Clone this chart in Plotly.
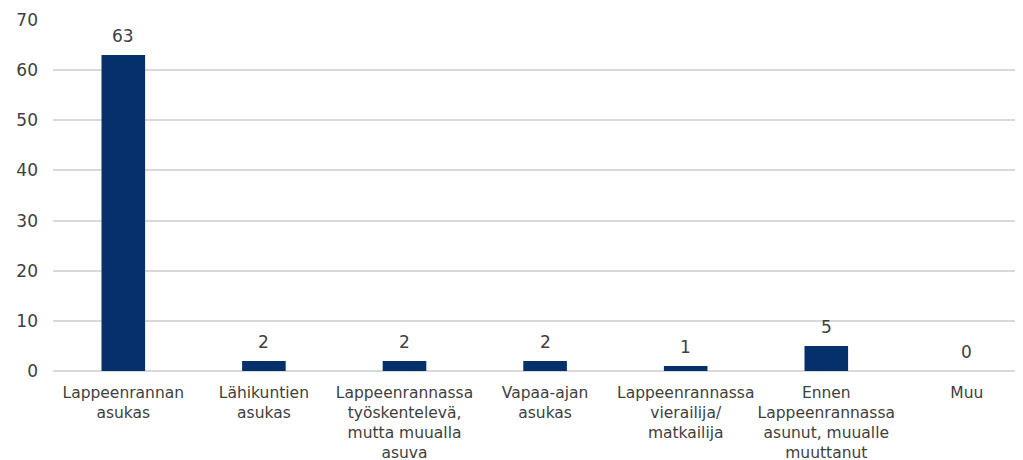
import plotly.graph_objects as go

categories = [
    "Lappeenrannan<br>asukas",
    "Lähikuntien<br>asukas",
    "Lappeenrannassa<br>työskentelevä,<br>mutta muualla<br>asuva",
    "Vapaa-ajan<br>asukas",
    "Lappeenrannassa<br>vierailija/<br>matkailija",
    "Ennen<br>Lappeenrannassa<br>asunut, muualle<br>muuttanut",
    "Muu",
]
values = [63, 2, 2, 2, 1, 5, 0]
y_ticks = [0, 10, 20, 30, 40, 50, 60, 70]

font_family = "DejaVu Sans, Verdana, sans-serif"
text_color = "#404040"

xs = list(range(len(categories)))

fig = go.Figure(
    go.Bar(
        x=xs,
        y=values,
        width=0.31,
        marker=dict(color="#06306b", line=dict(width=0)),
        hoverinfo="skip",
    )
)

for x, v in zip(xs, values):
    fig.add_annotation(
        x=x, y=v, text=str(v), showarrow=False,
        xanchor="center", yanchor="bottom", yshift=7,
        font=dict(family=font_family, size=17, color=text_color),
    )

fig.update_layout(
    width=1023,
    height=460,
    margin=dict(l=45, r=0, t=12, b=97, autoexpand=False),
    paper_bgcolor="white",
    plot_bgcolor="white",
    showlegend=False,
    font=dict(family=font_family, color=text_color),
    xaxis=dict(
        tickmode="array",
        tickvals=xs,
        ticktext=categories,
        range=[-0.5, 6.456],
        showgrid=False,
        zeroline=False,
        showline=False,
        ticks="",
        tickangle=0,
        automargin=False,
        ticklabelstandoff=10,
        tickfont=dict(family=font_family, size=15.5, color=text_color),
    ),
    yaxis=dict(
        range=[0, 70],
        tickvals=y_ticks,
        showgrid=True,
        gridcolor="#d9d9d9",
        gridwidth=1.5,
        zeroline=True,
        zerolinecolor="#d9d9d9",
        zerolinewidth=1.5,
        showline=False,
        ticks="",
        automargin=False,
        ticklabelstandoff=14,
        tickfont=dict(family=font_family, size=17, color=text_color),
    ),
)

fig.write_html("out.html")
